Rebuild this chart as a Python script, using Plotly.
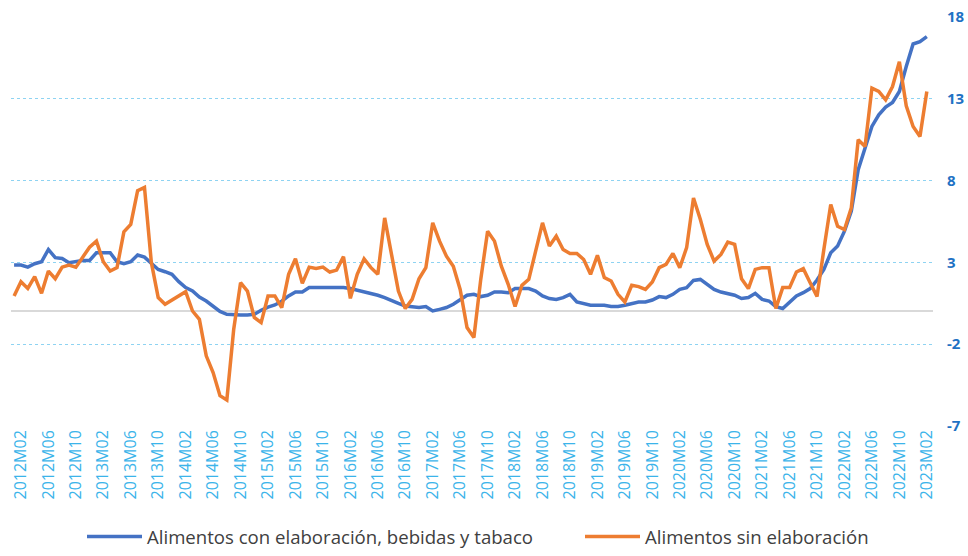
import plotly.graph_objects as go

# Categories: monthly periods 2012M01 .. 2023M02
months = [f"{y}M{m:02d}" for y in range(2012, 2024) for m in range(1, 13)]
months = months[: months.index("2023M02") + 1]

# Tick labels shown on the axis (every 4 months starting 2012M02)
tick_labels = months[1::4]

# Alimentos con elaboración, bebidas y tabaco (blue)
con_elaboracion = [
    2.84, 2.84, 2.71, 2.92, 3.04, 3.79, 3.29, 3.24, 2.98, 3.04,
    3.12, 3.12, 3.59, 3.59, 3.59, 3.04, 2.92, 3.04, 3.45, 3.32,
    2.92, 2.57, 2.43, 2.27, 1.82, 1.46, 1.25, 0.88, 0.64, 0.34,
    0.00, -0.17, -0.21, -0.21, -0.21, -0.17, 0.07, 0.27, 0.40, 0.63,
    0.95, 1.19, 1.19, 1.46, 1.46, 1.46, 1.46, 1.46, 1.46, 1.40,
    1.31, 1.19, 1.11, 0.99, 0.85, 0.70, 0.50, 0.34, 0.30, 0.24,
    0.30, 0.03, 0.13, 0.24, 0.44, 0.74, 0.99, 1.05, 0.91, 0.99,
    1.19, 1.19, 1.15, 1.40, 1.40, 1.40, 1.25, 0.95, 0.79, 0.74,
    0.85, 1.05, 0.58, 0.50, 0.38, 0.38, 0.38, 0.30, 0.30, 0.38,
    0.50, 0.58, 0.58, 0.70, 0.91, 0.85, 1.05, 1.35, 1.46, 1.90,
    1.96, 1.66, 1.35, 1.19, 1.11, 0.99, 0.79, 0.85, 1.11, 0.74,
    0.64, 0.30, 0.18, 0.54, 0.95, 1.15, 1.40, 1.92, 2.57, 3.59,
    4.00, 4.91, 6.13, 8.67, 9.99, 11.31, 12.02, 12.49, 12.78, 13.45,
    14.97, 16.35, 16.49, 16.80,
]

# Alimentos sin elaboración (orange)
sin_elaboracion = [
    0.95, 1.82, 1.41, 2.13, 1.11, 2.47, 2.00, 2.71, 2.84, 2.71,
    3.32, 3.93, 4.30, 3.04, 2.47, 2.68, 4.87, 5.32, 7.39, 7.59,
    3.00, 0.85, 0.44, 0.68, 0.95, 1.21, 0.03, -0.48, -2.71, -3.73,
    -5.15, -5.41, -1.10, 1.76, 1.25, -0.37, -0.68, 0.95, 0.95, 0.24,
    2.27, 3.22, 1.72, 2.71, 2.63, 2.71, 2.41, 2.53, 3.35, 0.80,
    2.27, 3.22, 2.68, 2.27, 5.72, 3.59, 1.25, 0.18, 0.74, 2.00,
    2.68, 5.42, 4.30, 3.38, 2.77, 1.35, -0.98, -1.59, 1.96, 4.91,
    4.30, 2.77, 1.66, 0.30, 1.60, 1.96, 3.79, 5.42, 4.00, 4.60,
    3.79, 3.55, 3.55, 3.18, 2.27, 3.43, 2.07, 1.86, 1.05, 0.58,
    1.60, 1.52, 1.35, 1.80, 2.68, 2.88, 3.55, 2.68, 3.90, 6.94,
    5.62, 4.10, 3.08, 3.49, 4.24, 4.10, 2.00, 1.40, 2.57, 2.68,
    2.68, 0.18, 1.46, 1.46, 2.41, 2.62, 1.76, 0.91, 3.80, 6.54,
    5.21, 5.01, 6.34, 10.50, 10.09, 13.65, 13.45, 12.94, 13.75, 15.27,
    12.57, 11.31, 10.70, 13.45,
]

y_ticks = [-7, -2, 3, 8, 13, 18]
y_tick_text = ["-7", "-2", "3", "8", "13", "18"]

fig = go.Figure()
fig.add_trace(go.Scatter(
    x=months, y=con_elaboracion, mode="lines",
    name="Alimentos con elaboración, bebidas y tabaco",
    line=dict(color="#4472C4", width=3.5), legend="legend",
))
fig.add_trace(go.Scatter(
    x=months, y=sin_elaboracion, mode="lines",
    name="Alimentos sin elaboración",
    line=dict(color="#ED7D31", width=3.5), legend="legend2",
))

legend_common = dict(
    orientation="h", xref="container", yref="container",
    y=-0.022, yanchor="bottom", xanchor="left",
    font=dict(size=18.6, color="#404040"), itemwidth=55,
    bgcolor="rgba(0,0,0,0)", borderwidth=0,
)

fig.update_layout(
    width=968, height=556, autosize=False,
    margin=dict(l=11, r=35, t=17, b=130),
    paper_bgcolor="white", plot_bgcolor="white",
    font=dict(family="Open Sans", color="#404040"),
    showlegend=True,
    legend=dict(legend_common, x=82 / 968),
    legend2=dict(legend_common, x=580 / 968),
    xaxis=dict(
        type="category", range=[-0.45, 133.9], automargin=False,
        tickmode="array", tickvals=tick_labels, ticktext=tick_labels,
        tickangle=-90, tickfont=dict(size=16, color="#3BB4EA", family="Open Sans"),
        showgrid=False, showline=False, ticks="", zeroline=False,
    ),
    yaxis=dict(
        side="right", range=[-7, 18], tickmode="array",
        tickvals=y_ticks, ticktext=y_tick_text,
        automargin=False,
        tickfont=dict(size=15, color="#1F72C4", family="Open Sans", weight="bold"),
        showgrid=True, gridcolor="#8ED3F2", griddash="dot", gridwidth=1,
        zeroline=True, zerolinecolor="#D9D9D9", zerolinewidth=2,
        showline=False, ticks="", ticklabelstandoff=13,
    ),
)

post = (
    "document.body.style.margin='0';"
    "document.body.style.padding='0';"
    "document.body.style.overflow='hidden';"
)

fig.write_html("out.html", config={"responsive": False, "displayModeBar": False},
               post_script=post)
